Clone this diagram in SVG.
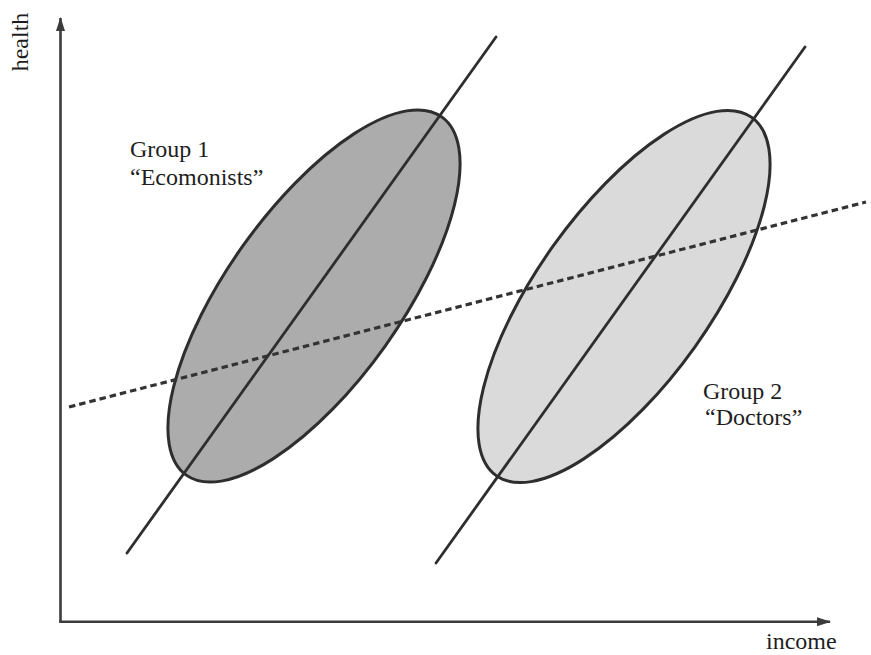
<svg xmlns="http://www.w3.org/2000/svg" width="871" height="655" viewBox="0 0 871 655">
<style>
.lbl{font-family:"Liberation Serif","Times New Roman",serif;font-size:24px;fill:#1e1e1e}
.axis{stroke:#3c3c3c;stroke-width:2.6;fill:none}
.fit{stroke:#2e2e2e;stroke-width:2.8;fill:none;stroke-linecap:round}
.ell{stroke:#2e2e2e;stroke-width:3}
.dash{stroke:#333;stroke-width:3.2;stroke-dasharray:6.5 4;fill:none}
</style>
<defs>
<marker id="arr" viewBox="0 0 14 10" refX="13" refY="5" markerWidth="14" markerHeight="10" markerUnits="userSpaceOnUse" orient="auto">
<path d="M0,0.5 L14,5 L0,9.5 Z" fill="#3c3c3c"/>
</marker>
</defs>
<rect width="871" height="655" fill="#ffffff"/>
<g id="axes">
<line class="axis" x1="60.5" y1="622" x2="60.5" y2="18" marker-end="url(#arr)"/>
<line class="axis" x1="59.2" y1="621.7" x2="830" y2="621.7" marker-end="url(#arr)"/>
<text class="lbl" transform="translate(28,42) rotate(-90)" text-anchor="middle">health</text>
<text class="lbl" x="766" y="649">income</text>
</g>
<g id="group1">
<ellipse class="ell" cx="314" cy="296" rx="220" ry="87" fill="#acacac" transform="rotate(-54.5 314 296)"/>
<text class="lbl" x="130" y="157">Group 1</text>
<text class="lbl" x="130" y="185">“Ecomonists”</text>
</g>
<g id="group2">
<ellipse class="ell" cx="624" cy="296.5" rx="220" ry="87" fill="#dadada" transform="rotate(-54.5 624 296.5)"/>
<text class="lbl" x="703" y="399">Group 2</text>
<text class="lbl" x="705" y="425">“Doctors”</text>
</g>
<g id="connectors">
<line class="fit" x1="127" y1="553" x2="496" y2="37"/>
<line class="fit" x1="436" y1="563" x2="805" y2="47"/>
<line class="dash" x1="69" y1="407" x2="866" y2="202"/>
</g>
</svg>
